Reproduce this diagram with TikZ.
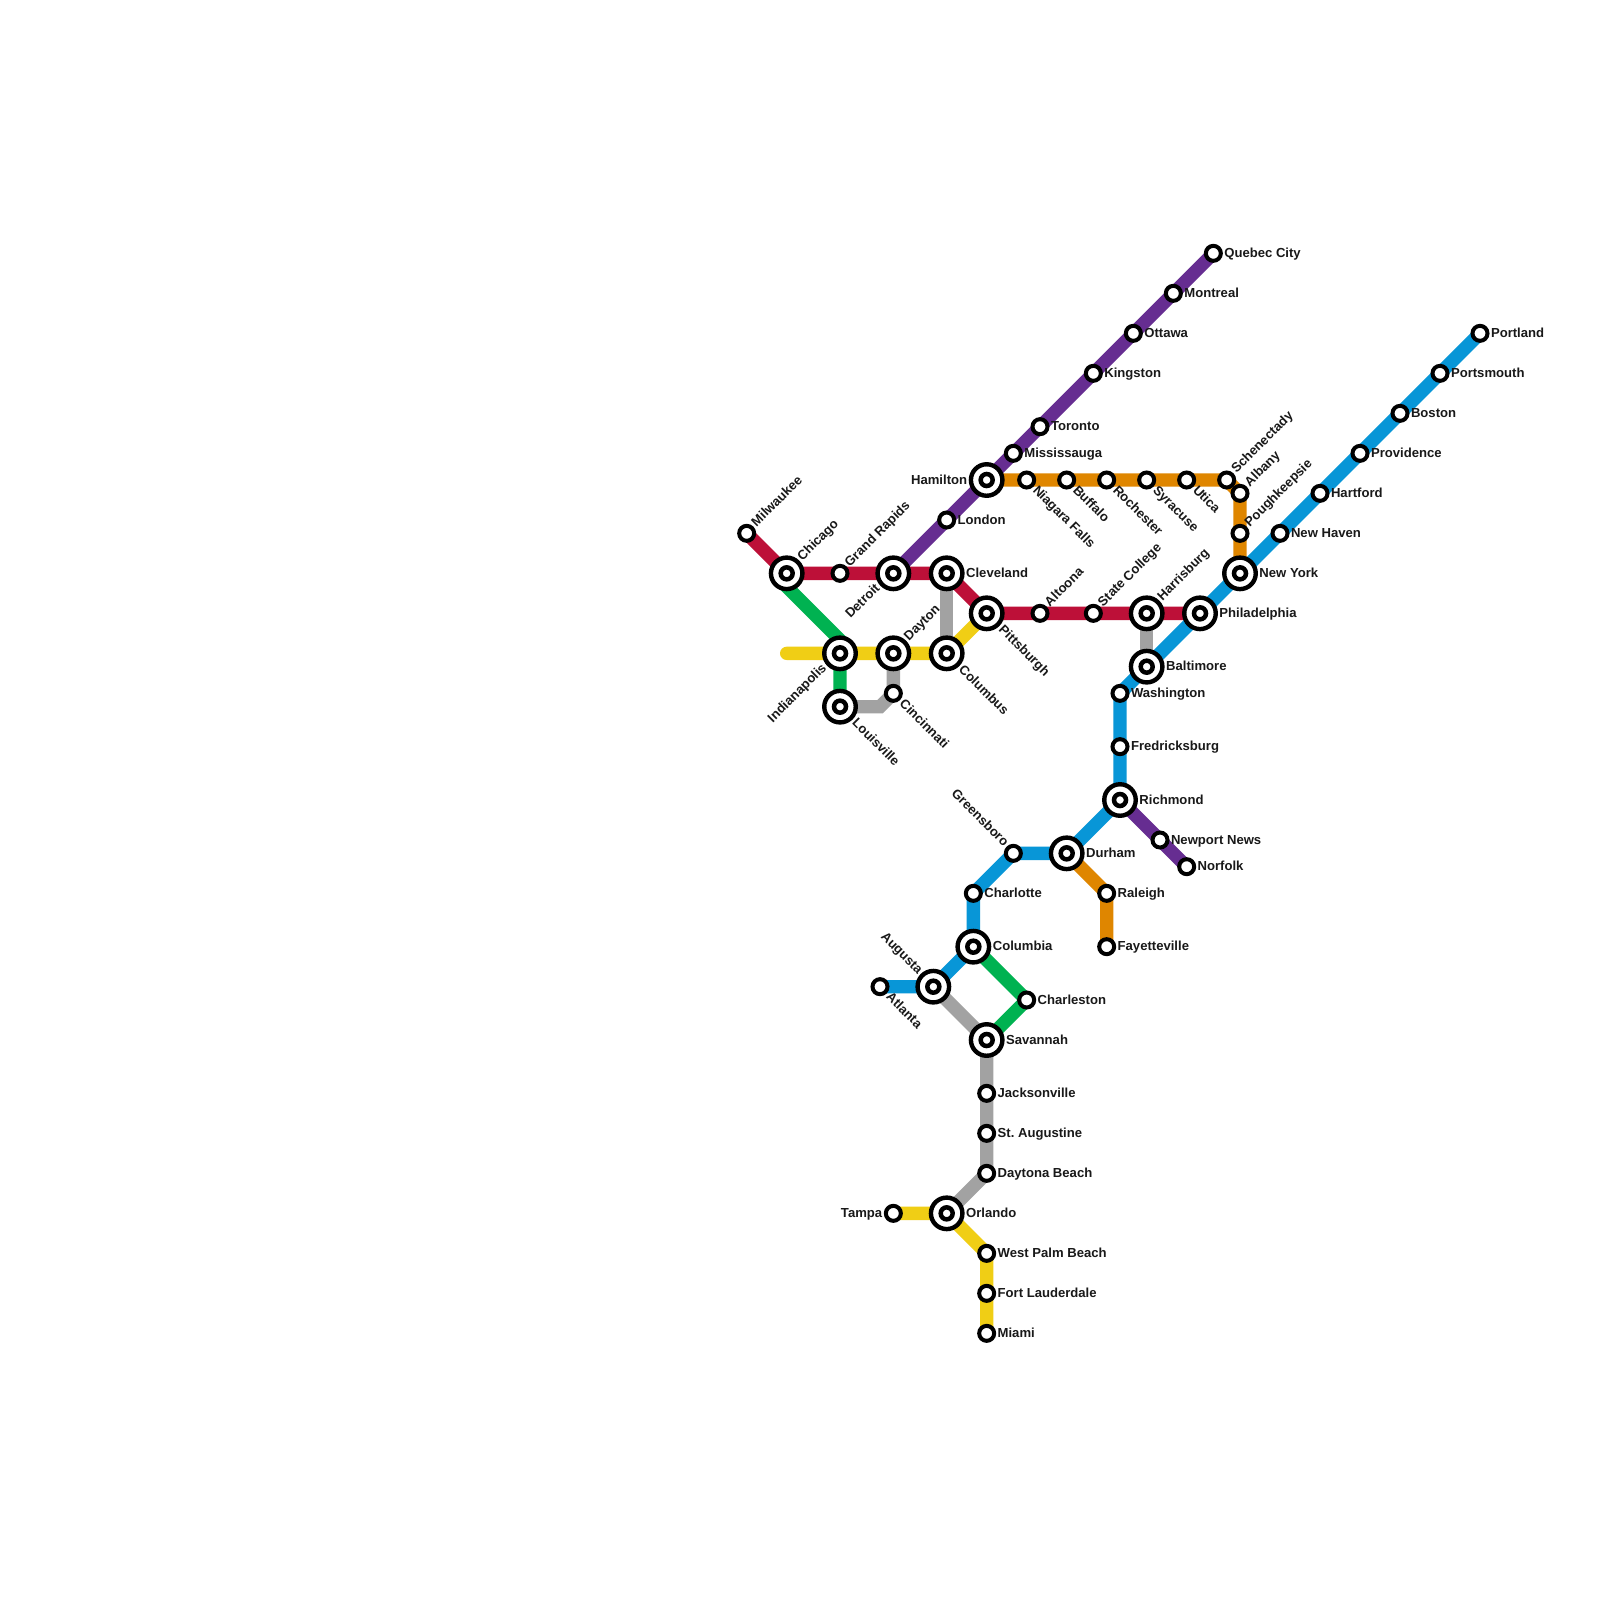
\documentclass[tikz,border=0pt]{standalone}
\usepackage{fontspec}
\setmainfont{Liberation Sans}
\pgfdeclarelayer{lines}
\pgfsetlayers{lines,main}
\definecolor{cred}{HTML}{BD1038}
\definecolor{cgreen}{HTML}{00B251}
\definecolor{cyellow}{HTML}{F0CE15}
\definecolor{cgrey}{HTML}{A2A2A2}
\definecolor{cblue}{HTML}{0896D7}
\definecolor{cpurple}{HTML}{662D91}
\definecolor{corange}{HTML}{DF8600}
\tikzset{
  lab/.style={font=\fontsize{13.1}{13.1}\selectfont\bfseries\frenchspacing, inner sep=0pt, text height=8.6pt, text depth=0pt, text=black!90},
  sm/.style={circle, draw=black, fill=white, line width=4pt, minimum size=15pt, inner sep=0pt},
  big/.style={circle, draw=black, fill=white, line width=4.4pt, minimum size=31.5pt, inner sep=0pt,
    path picture={\draw[line width=4.5pt] (path picture bounding box.center) circle[radius=6pt];}},
  lE/.style={label={[lab,anchor=west,label distance=1.3pt]0:#1}},
  lW/.style={label={[lab,anchor=east,label distance=1.4pt]180:#1}},
  lNE/.style={label={[lab,anchor=west,rotate=45,label distance=2.3pt]45:#1}},
  lSE/.style={label={[lab,anchor=west,rotate=-45,yshift=2.5pt,label distance=3pt]-45:#1}},
  lSW/.style={label={[lab,anchor=east,rotate=45,yshift=4.5pt,label distance=3pt]225:#1}},
  lNW/.style={label={[lab,anchor=east,rotate=-45,label distance=2.5pt]135:#1}},
  metro/.style={line width=13.33pt, line join=miter, line cap=butt},
}
\begin{document}
\begin{tikzpicture}[x=13.3333pt,y=-13.3333pt]
\useasboundingbox (0,0) rectangle (120,120);
% Stations
\node[sm,lNE=Milwaukee] (mil) at (56,40) {};
\node[big,lNE=Chicago] (chi) at (59,43) {};
\node[sm,lNE=Grand Rapids] (gra) at (63,43) {};
\node[big,lSW=Detroit] (det) at (67,43) {};
\node[big,lE=Cleveland] (cle) at (71,43) {};
\node[big,lSE=Pittsburgh] (pit) at (74,46) {};
\node[sm,lNE=Altoona] (alt) at (78,46) {};
\node[sm,lNE=State College] (stc) at (82,46) {};
\node[big,lNE=Harrisburg] (har) at (86,46) {};
\node[big,lE=Philadelphia] (phi) at (90,46) {};
\node[big,lE=Baltimore] (bal) at (86,50) {};
\node[sm,lE=Washington] (was) at (84,52) {};
\node[sm,lE=Fredricksburg] (fre) at (84,56) {};
\node[big,lE=Richmond] (ric) at (84,60) {};
\node[big,lE=Durham] (dur) at (80,64) {};
\node[sm,lNW=Greensboro] (gre) at (76,64) {};
\node[sm,lE=Charlotte] (cht) at (73,67) {};
\node[big,lE=Columbia] (clb) at (73,71) {};
\node[big,lNW=Augusta] (aug) at (70,74) {};
\node[sm,lSE=Atlanta] (atl) at (66,74) {};
\node[sm,lE=Charleston] (chs) at (77,75) {};
\node[big,lE=Savannah] (sav) at (74,78) {};
\node[sm,lE=Jacksonville] (jax) at (74,82) {};
\node[sm,lE=St. Augustine] (sta) at (74,85) {};
\node[sm,lE=Daytona Beach] (dbe) at (74,88) {};
\node[big,lE=Orlando] (orl) at (71,91) {};
\node[sm,lW=Tampa] (tam) at (67,91) {};
\node[sm,lE=West Palm Beach] (wpb) at (74,94) {};
\node[sm,lE=Fort Lauderdale] (ftl) at (74,97) {};
\node[sm,lE=Miami] (mia) at (74,100) {};
\node[sm,lE=Raleigh] (ral) at (83,67) {};
\node[sm,lE=Fayetteville] (fay) at (83,71) {};
\node[sm,lE=Newport News] (nn) at (87,63) {};
\node[sm,lE=Norfolk] (nor) at (89,65) {};
\node[big,lE=New York] (nyc) at (93,43) {};
\node[sm,lNE=Poughkeepsie] (pou) at (93,40) {};
\node[sm,lNE=Albany] (alb) at (93,37) {};
\node[sm,lNE=Schenectady] (sch) at (92,36) {};
\node[sm,lSE=Utica] (uti) at (89,36) {};
\node[sm,lSE=Syracuse] (syr) at (86,36) {};
\node[sm,lSE=Rochester] (roc) at (83,36) {};
\node[sm,lSE=Buffalo] (buf) at (80,36) {};
\node[sm,lSE=Niagara Falls] (nia) at (77,36) {};
\node[big,lW=Hamilton] (ham) at (74,36) {};
\node[sm,lE=Mississauga] (mis) at (76,34) {};
\node[sm,lE=Toronto] (tor) at (78,32) {};
\node[sm,lE=Kingston] (kin) at (82,28) {};
\node[sm,lE=Ottawa] (ott) at (85,25) {};
\node[sm,lE=Montreal] (mon) at (88,22) {};
\node[sm,lE=Quebec City] (que) at (91,19) {};
\node[sm,lE=London] (lon) at (71,39) {};
\node[sm,lE=New Haven] (nha) at (96,40) {};
\node[sm,lE=Hartford] (hfd) at (99,37) {};
\node[sm,lE=Providence] (pvd) at (102,34) {};
\node[sm,lE=Boston] (bos) at (105,31) {};
\node[sm,lE=Portsmouth] (pts) at (108,28) {};
\node[sm,lE=Portland] (pld) at (111,25) {};
\node[big,lSW=Indianapolis] (ind) at (63,49) {};
\node[big,lNE=Dayton] (day) at (67,49) {};
\node[big,lSE=Columbus] (cbu) at (71,49) {};
\node[big,lSE=Louisville] (lou) at (63,53) {};
\node[sm,lSE=Cincinnati] (cin) at (67,52) {};
\coordinate (yst) at (59,49);
\coordinate (gbend) at (66,53);
\coordinate (gna) at (59,44);
\coordinate (gnb) at (63,48);
% Lines
\begin{pgfonlayer}{lines}
\fill[white] (0,0) rectangle (120,120);
\draw[metro,cgrey] (cle.center) -- (cbu.center);
\draw[metro,cgrey] (day.center) -- (cin.center) -- (gbend) -- (lou.center);
\draw[metro,cgrey] (har.center) -- (bal.center);
\draw[metro,cgrey] (aug.center) -- (sav.center) -- (jax.center) -- (sta.center) -- (dbe.center) -- (orl.center);
\draw[metro,cgreen] (chi.center) -- (gna) -- (gnb) -- (ind.center) -- (lou.center);
\draw[metro,cgreen] (clb.center) -- (chs.center) -- (sav.center);
\draw[metro,cyellow,line cap=round] (yst) -- (ind.center) -- (day.center) -- (cbu.center) -- (pit.center);
\draw[metro,cyellow] (tam.center) -- (orl.center) -- (wpb.center) -- (ftl.center) -- (mia.center);
\draw[metro,cred] (mil.center) -- (chi.center) -- (gra.center) -- (det.center) -- (cle.center) -- (pit.center) -- (alt.center) -- (stc.center) -- (har.center) -- (phi.center);
\draw[metro,corange] (ham.center) -- (nia.center) -- (buf.center) -- (roc.center) -- (syr.center) -- (uti.center) -- (sch.center) -- (alb.center) -- (pou.center) -- (nyc.center);
\draw[metro,corange] (dur.center) -- (ral.center) -- (fay.center);
\draw[metro,cblue] (pld.center) -- (pts.center) -- (bos.center) -- (pvd.center) -- (hfd.center) -- (nha.center) -- (nyc.center) -- (phi.center) -- (bal.center) -- (was.center) -- (fre.center) -- (ric.center) -- (dur.center) -- (gre.center) -- (cht.center) -- (clb.center) -- (aug.center) -- (atl.center);
\draw[metro,cpurple] (det.center) -- (lon.center) -- (ham.center) -- (mis.center) -- (tor.center) -- (kin.center) -- (ott.center) -- (mon.center) -- (que.center);
\draw[metro,cpurple] (ric.center) -- (nn.center) -- (nor.center);
\end{pgfonlayer}
\end{tikzpicture}
\end{document}
